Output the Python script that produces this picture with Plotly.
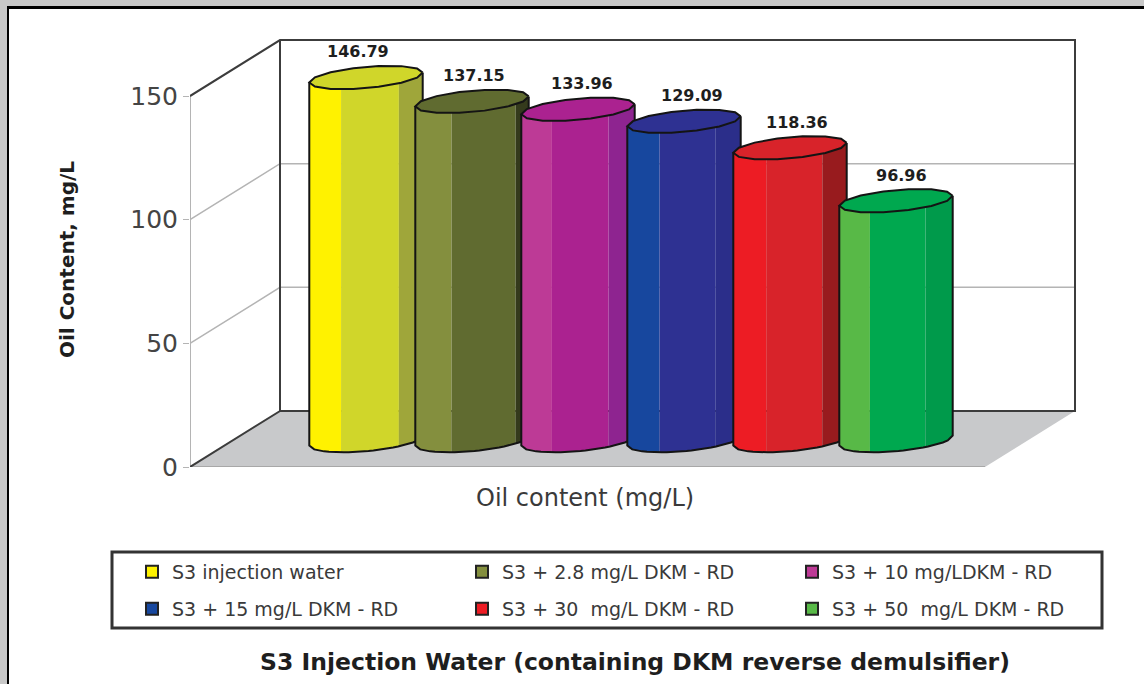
import numpy as np
import plotly.graph_objects as go

# ---- data ----
categories = ["S3 injection water", "S3 + 2.8 mg/L DKM - RD", "S3 + 10 mg/LDKM - RD",
              "S3 + 15 mg/L DKM - RD", "S3 + 30\u00a0 mg/L DKM - RD", "S3 + 50\u00a0 mg/L DKM - RD"]
oil_content = [146.79, 137.15, 133.96, 129.09, 118.36, 96.96]
value_labels = ["146.79", "137.15", "133.96", "129.09", "118.36", "96.96"]
y_ticks = [0, 50, 100, 150]
left_colors = ["#fff200", "#848f3e", "#bd3a96", "#17479e", "#ed1c24", "#58b947"]
mid_colors = ["#d0d62a", "#606b30", "#ab2290", "#2e3192", "#d8232a", "#00a84f"]
right_colors = ["#9fa63a", "#343a1c", "#8e2490", "#2b2e8a", "#981b1e", "#009a4b"]
label_nudges = [-8, 2, 4, 8, 7, 5]
shade_left = [-0.44, -0.36, -0.46, -0.43, -0.42, -0.46]
shade_right = [0.58, 0.77, 0.54, 0.56, 0.57, 0.52]

W, H = 1144, 684
PX_X, PX_V = 106.0, 2.473       # pixels per category / per mg/L
X_LEFT, X_RIGHT = 190, 985      # floor front edge
Y_ZERO, Y_UP = 467, 30          # axis frame in pixels
X_FAR = 1085
X0_PX = 366
DEPTH_X, DEPTH_V = 90 / PX_X, 56 / PX_V   # depth of the box
CYL_V = 10.7                    # base centre lift of the cylinders
A, B, TILT = 0.535, 4.3, 2.0    # ellipse half width, half height, tilt

x_lo = (X_LEFT - X0_PX) / PX_X
x_hi = (X_RIGHT - X0_PX) / PX_X
x_far = (X_FAR - X0_PX) / PX_X
v_far = (Y_ZERO - Y_UP) / PX_V
top_v = 150


def px(x):
    return x / W


def py(y):
    return 1 - y / H


fig = go.Figure()


def poly(xs, ys, fill=None, line=None, width=0):
    fig.add_trace(go.Scatter(
        x=list(xs), y=list(ys), mode="lines", showlegend=False, hoverinfo="skip",
        fill="toself" if fill else "none", fillcolor=fill,
        line=dict(color=line or "rgba(0,0,0,0)", width=width)))


# floor
poly([x_lo, x_hi, x_hi + DEPTH_X, x_lo + DEPTH_X, x_lo],
     [0, 0, DEPTH_V, DEPTH_V, 0], fill="#c8c9cb")
# walls: grid
for v in y_ticks[1:-1]:
    poly([x_lo, x_lo + DEPTH_X, x_hi + DEPTH_X], [v, v + DEPTH_V, v + DEPTH_V], line="#b4b4b4", width=1.5)
# front axis edges
poly([x_lo, x_lo], [0, top_v], line="#b4b4b4", width=2)
poly([x_lo, x_hi], [0, 0], line="#a8a8a8", width=2)
# box edges
poly([x_lo, x_lo + DEPTH_X, x_lo + DEPTH_X], [0, DEPTH_V, top_v + DEPTH_V], line="#3c3c3c", width=2)
poly([x_lo, x_lo + DEPTH_X, x_hi + DEPTH_X, x_hi + DEPTH_X, x_lo + DEPTH_X],
     [top_v, top_v + DEPTH_V, top_v + DEPTH_V, DEPTH_V, DEPTH_V], line="#3c3c3c", width=2)

# cylinders
for i, val in enumerate(oil_content):
    cols = (left_colors[i], mid_colors[i], right_colors[i])
    edges = (-1.0, shade_left[i], shade_right[i], 1.0)
    top = val + CYL_V
    for k in range(3):
        s = np.linspace(edges[k], edges[k + 1], 14)
        xs = i + A * s
        low = CYL_V + TILT * s - B * np.sqrt(1 - s ** 2)
        poly(np.r_[xs, xs[::-1], xs[0]],
             np.r_[low, np.full(14, top) + TILT * s[::-1], low[0]], fill=cols[k])
    s = np.linspace(-1, 1, 24)
    poly(np.r_[i - A, i + A * s, i + A],
         np.r_[top - TILT, CYL_V + TILT * s - B * np.sqrt(1 - s ** 2), top + TILT],
         line="#141414", width=2)
    t = np.linspace(0, 2 * np.pi, 15)
    poly(i + A * np.cos(t), top + TILT * np.cos(t) + B * np.sin(t), fill=cols[1], line="#141414", width=2)

# legend entries (two rows, each its own legend)
for i, name in enumerate(categories):
    fig.add_trace(go.Scatter(
        x=[None], y=[None], mode="markers", name=name,
        legend="legend" if i < 3 else "legend2",
        marker=dict(symbol="square", size=12, color=left_colors[i], line=dict(color="#222222", width=2))))

annotations = [
    dict(xref="x", yref="y", x=i, y=val + CYL_V + B + 1, text=f"<b>{lab}</b>", showarrow=False,
         yanchor="bottom", xanchor="center", xshift=label_nudges[i], yshift=1,
         font=dict(family="DejaVu Sans", size=16, color="#1e1e1e"))
    for i, (val, lab) in enumerate(zip(oil_content, value_labels))
]
annotations += [
    dict(xref="paper", yref="paper", x=px(67), y=py(260), text="<b>Oil Content, mg/L</b>", textangle=-90,
         xanchor="center", yanchor="middle",
         showarrow=False, font=dict(family="DejaVu Sans", size=20, color="#1e1e1e")),
    dict(xref="paper", yref="paper", x=px(585), y=py(498), text="Oil content (mg/L)",
         xanchor="center", yanchor="middle",
         showarrow=False, font=dict(family="DejaVu Sans", size=24, color="#3a3a3a")),
]

legend_style = dict(orientation="h", xanchor="left", yanchor="middle", x=px(132),
                    entrywidth=285, entrywidthmode="pixels", bgcolor="rgba(0,0,0,0)",
                    font=dict(family="DejaVu Sans", size=19, color="#3a3a3a"), traceorder="normal")

fig.update_layout(
    width=W, height=H, autosize=False,
    margin=dict(l=0, r=0, t=0, b=0, autoexpand=False),
    paper_bgcolor="white", plot_bgcolor="rgba(0,0,0,0)",
    showlegend=True,
    legend=dict(y=py(572), **legend_style),
    legend2=dict(y=py(609), **legend_style),
    title=dict(text="<b>S3 Injection Water (containing DKM reverse demulsifier)</b>",
               x=px(635), xanchor="center", xref="paper", y=py(662), yanchor="middle", yref="paper",
               font=dict(family="DejaVu Sans", size=23.5, color="#1e1e1e")),
    xaxis=dict(domain=[px(X_LEFT), px(X_FAR)], range=[x_lo, x_far], showgrid=False, zeroline=False,
               showticklabels=False, ticks="", showline=False),
    yaxis=dict(domain=[py(Y_ZERO), py(Y_UP)], range=[0, v_far], tickvals=y_ticks, showgrid=False, zeroline=False,
               showline=False, ticks="outside", ticklen=6, tickcolor="#b4b4b4",
               tickfont=dict(family="DejaVu Sans", size=25, color="#444444")),
    annotations=annotations,
    shapes=[
        dict(type="rect", xref="paper", yref="paper", x0=0, x1=1, y0=py(7), y1=1, fillcolor="#c8c8c8", line_width=0, layer="below"),
        dict(type="rect", xref="paper", yref="paper", x0=0, x1=px(7), y0=0, y1=1, fillcolor="#c8c8c8", line_width=0, layer="below"),
        dict(type="rect", xref="paper", yref="paper", x0=px(7), x1=1, y0=py(9), y1=py(6), fillcolor="#000000", line_width=0, layer="below"),
        dict(type="rect", xref="paper", yref="paper", x0=px(7), x1=px(9), y0=0, y1=py(6), fillcolor="#000000", line_width=0, layer="below"),
        dict(type="rect", xref="paper", yref="paper", x0=px(112), x1=px(1102), y0=py(628), y1=py(552),
             line=dict(color="#333333", width=3), layer="below"),
    ],
)

fig.write_html("out.html", config=dict(displayModeBar=False),
               post_script="document.body.style.margin='0';document.documentElement.style.overflow='hidden';")
